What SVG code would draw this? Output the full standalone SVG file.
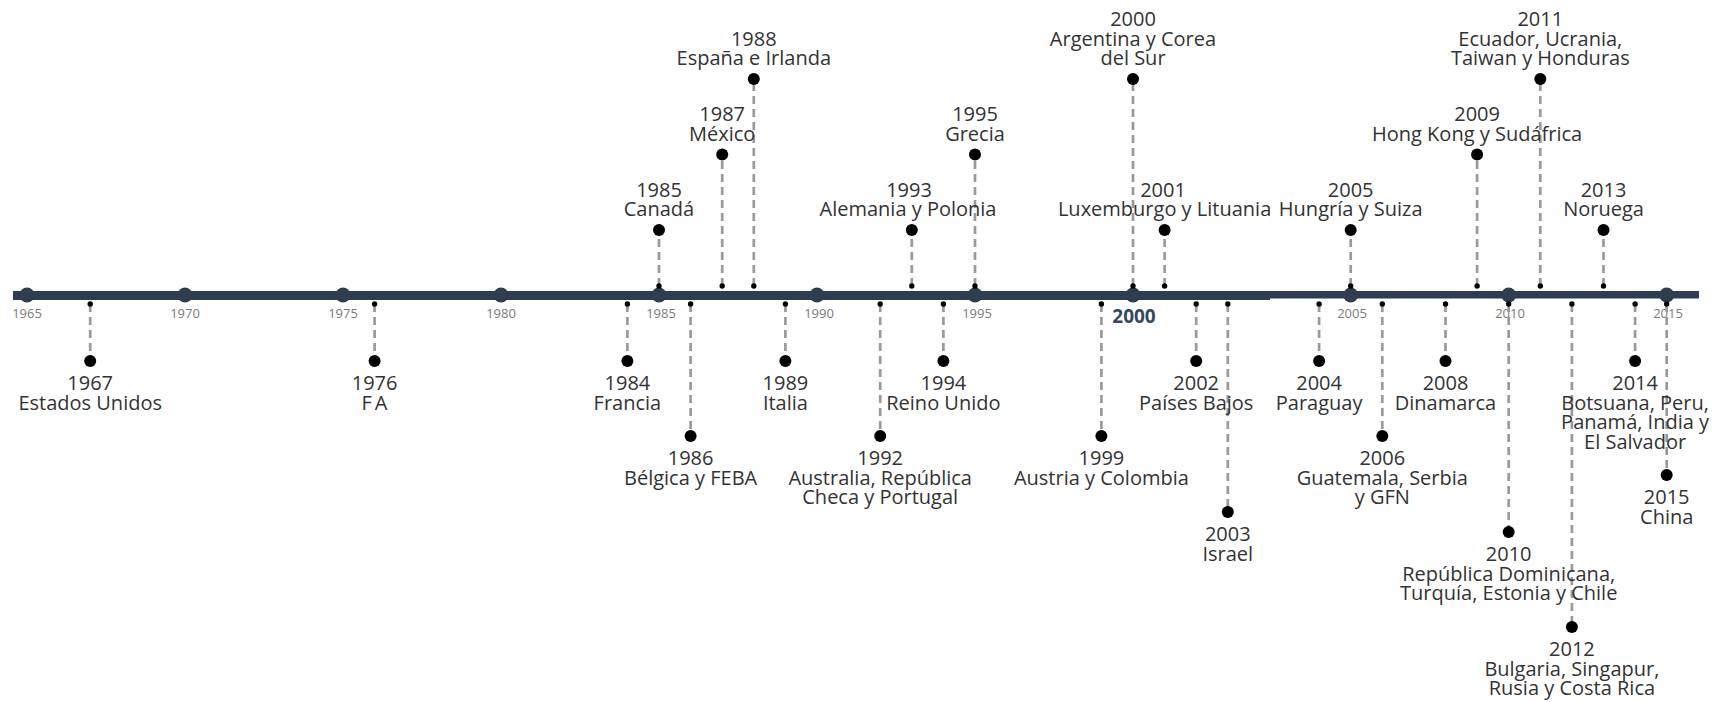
<svg xmlns="http://www.w3.org/2000/svg" width="1726" height="702" viewBox="0 0 1726 702">
<style>
.ax{stroke:#2e3d50;fill:none}
.yc{fill:#2e3d50}
.tk{font-family:"Open Sans","Liberation Sans",sans-serif;font-size:13px;fill:#7a7a7a;text-anchor:middle}
.tkb{font-family:"Open Sans","Liberation Sans",sans-serif;font-size:19px;font-weight:bold;fill:#34495e;text-anchor:middle}
.dash{stroke:#9a9a9a;stroke-width:2.7;stroke-dasharray:8 5;fill:none}
.sd{fill:#000}
.bd{fill:#000}
.lb{font-family:"Open Sans","Liberation Sans",sans-serif;font-size:20px;fill:#333;text-anchor:middle}
</style>
<rect width="1726" height="702" fill="#fff"/>

<g id="axis">
<line class="ax" x1="13" y1="295.5" x2="1270" y2="295.5" stroke-width="9"/>
<line class="ax" x1="1269" y1="294.8" x2="1699" y2="294.8" stroke-width="7.6"/>
<circle class="yc" cx="27" cy="295" r="7.5"/>
<circle class="yc" cx="185" cy="295" r="7.5"/>
<circle class="yc" cx="343" cy="295" r="7.5"/>
<circle class="yc" cx="501" cy="295" r="7.5"/>
<circle class="yc" cx="659" cy="295" r="7.5"/>
<circle class="yc" cx="817" cy="295" r="7.5"/>
<circle class="yc" cx="975" cy="295" r="7.5"/>
<circle class="yc" cx="1133" cy="295" r="7.5"/>
<circle class="yc" cx="1350.7" cy="295" r="7.5"/>
<circle class="yc" cx="1508.7" cy="295" r="7.5"/>
<circle class="yc" cx="1666.7" cy="295" r="7.5"/>
<text class="tk" x="27" y="318">1965</text>
<text class="tk" x="185" y="318">1970</text>
<text class="tk" x="343" y="318">1975</text>
<text class="tk" x="501" y="318">1980</text>
<text class="tk" x="661" y="318">1985</text>
<text class="tk" x="819" y="318">1990</text>
<text class="tk" x="977" y="318">1995</text>
<text class="tkb" x="1134" y="323">2000</text>
<text class="tk" x="1352" y="318">2005</text>
<text class="tk" x="1510" y="318">2010</text>
<text class="tk" x="1668" y="318">2015</text>
</g>

<g id="connectors">
<line class="dash" x1="659" y1="286" x2="659" y2="230"/>
<line class="dash" x1="722.2" y1="286" x2="722.2" y2="154.5"/>
<line class="dash" x1="753.8" y1="286" x2="753.8" y2="79"/>
<line class="dash" x1="911.8" y1="286" x2="911.8" y2="230"/>
<line class="dash" x1="975" y1="286" x2="975" y2="154.5"/>
<line class="dash" x1="1133" y1="286" x2="1133" y2="79"/>
<line class="dash" x1="1164.6" y1="286" x2="1164.6" y2="230"/>
<line class="dash" x1="1350.7" y1="286" x2="1350.7" y2="230"/>
<line class="dash" x1="1477.1" y1="286" x2="1477.1" y2="154.5"/>
<line class="dash" x1="1540.3" y1="286" x2="1540.3" y2="79"/>
<line class="dash" x1="1603.5" y1="286" x2="1603.5" y2="230"/>
<line class="dash" x1="90.2" y1="304" x2="90.2" y2="361"/>
<line class="dash" x1="374.6" y1="304" x2="374.6" y2="361"/>
<line class="dash" x1="627.4" y1="304" x2="627.4" y2="361"/>
<line class="dash" x1="690.6" y1="304" x2="690.6" y2="436"/>
<line class="dash" x1="785.4" y1="304" x2="785.4" y2="361"/>
<line class="dash" x1="880.2" y1="304" x2="880.2" y2="436"/>
<line class="dash" x1="943.4" y1="304" x2="943.4" y2="361"/>
<line class="dash" x1="1101.4" y1="304" x2="1101.4" y2="436"/>
<line class="dash" x1="1196.2" y1="304" x2="1196.2" y2="361"/>
<line class="dash" x1="1227.8" y1="304" x2="1227.8" y2="512"/>
<line class="dash" x1="1319.1" y1="304" x2="1319.1" y2="361"/>
<line class="dash" x1="1382.3" y1="304" x2="1382.3" y2="436"/>
<line class="dash" x1="1445.5" y1="304" x2="1445.5" y2="361"/>
<line class="dash" x1="1508.7" y1="304" x2="1508.7" y2="532"/>
<line class="dash" x1="1571.9" y1="304" x2="1571.9" y2="627"/>
<line class="dash" x1="1635.1" y1="304" x2="1635.1" y2="361"/>
<line class="dash" x1="1666.7" y1="304" x2="1666.7" y2="475"/>
<g class="sd">
<circle cx="659" cy="286" r="2.7"/><circle cx="722.2" cy="286" r="2.7"/><circle cx="753.8" cy="286" r="2.7"/>
<circle cx="911.8" cy="286" r="2.7"/><circle cx="975" cy="286" r="2.7"/><circle cx="1133" cy="286" r="2.7"/>
<circle cx="1164.6" cy="286" r="2.7"/><circle cx="1350.7" cy="286" r="2.7"/><circle cx="1477.1" cy="286" r="2.7"/>
<circle cx="1540.3" cy="286" r="2.7"/><circle cx="1603.5" cy="286" r="2.7"/>
<circle cx="90.2" cy="304" r="2.7"/><circle cx="374.6" cy="304" r="2.7"/><circle cx="627.4" cy="304" r="2.7"/>
<circle cx="690.6" cy="304" r="2.7"/><circle cx="785.4" cy="304" r="2.7"/><circle cx="880.2" cy="304" r="2.7"/>
<circle cx="943.4" cy="304" r="2.7"/><circle cx="1101.4" cy="304" r="2.7"/><circle cx="1196.2" cy="304" r="2.7"/>
<circle cx="1227.8" cy="304" r="2.7"/><circle cx="1319.1" cy="304" r="2.7"/><circle cx="1382.3" cy="304" r="2.7"/>
<circle cx="1445.5" cy="304" r="2.7"/><circle cx="1508.7" cy="304" r="2.7"/><circle cx="1571.9" cy="304" r="2.7"/>
<circle cx="1635.1" cy="304" r="2.7"/><circle cx="1666.7" cy="304" r="2.7"/>
</g>
</g>

<g id="ev-1985"><circle class="bd" cx="659" cy="230" r="6"/><text class="lb" x="659"><tspan x="659" y="196.5">1985</tspan><tspan x="659" y="216">Canadá</tspan></text></g>
<g id="ev-1987"><circle class="bd" cx="722.2" cy="154.5" r="6"/><text class="lb"><tspan x="722.2" y="121">1987</tspan><tspan x="722.2" y="140.5">México</tspan></text></g>
<g id="ev-1988"><circle class="bd" cx="753.8" cy="79" r="6"/><text class="lb"><tspan x="753.8" y="45.5">1988</tspan><tspan x="753.8" y="65">España e Irlanda</tspan></text></g>
<g id="ev-1993"><circle class="bd" cx="911.8" cy="230" r="6"/><text class="lb"><tspan x="909" y="196.5">1993</tspan><tspan x="908" y="216">Alemania y Polonia</tspan></text></g>
<g id="ev-1995"><circle class="bd" cx="975" cy="154.5" r="6"/><text class="lb"><tspan x="975" y="121">1995</tspan><tspan x="975" y="140.5">Grecia</tspan></text></g>
<g id="ev-2000"><circle class="bd" cx="1133" cy="79" r="6"/><text class="lb"><tspan x="1133" y="26">2000</tspan><tspan x="1133" y="45.5">Argentina y Corea</tspan><tspan x="1133" y="65">del Sur</tspan></text></g>
<g id="ev-2001"><circle class="bd" cx="1164.6" cy="230" r="6"/><text class="lb"><tspan x="1163" y="196.5">2001</tspan><tspan x="1164.6" y="216">Luxemburgo y Lituania</tspan></text></g>
<g id="ev-2005"><circle class="bd" cx="1350.7" cy="230" r="6"/><text class="lb"><tspan x="1350.7" y="196.5">2005</tspan><tspan x="1350.7" y="216">Hungría y Suiza</tspan></text></g>
<g id="ev-2009"><circle class="bd" cx="1477.1" cy="154.5" r="6"/><text class="lb"><tspan x="1477.1" y="121">2009</tspan><tspan x="1477.1" y="140.5">Hong Kong y Sudáfrica</tspan></text></g>
<g id="ev-2011"><circle class="bd" cx="1540.3" cy="79" r="6"/><text class="lb"><tspan x="1540.3" y="26">2011</tspan><tspan x="1540.3" y="45.5">Ecuador, Ucrania,</tspan><tspan x="1540.3" y="65">Taiwan y Honduras</tspan></text></g>
<g id="ev-2013"><circle class="bd" cx="1603.5" cy="230" r="6"/><text class="lb"><tspan x="1603.5" y="196.5">2013</tspan><tspan x="1603.5" y="216">Noruega</tspan></text></g>

<g id="ev-1967"><circle class="bd" cx="90.2" cy="361" r="6"/><text class="lb"><tspan x="90.2" y="390">1967</tspan><tspan x="90.2" y="409.5">Estados Unidos</tspan></text></g>
<g id="ev-1976"><circle class="bd" cx="374.6" cy="361" r="6"/><text class="lb"><tspan x="374.6" y="390">1976</tspan><tspan x="376" y="409.5" letter-spacing="3">FA</tspan></text></g>
<g id="ev-1984"><circle class="bd" cx="627.4" cy="361" r="6"/><text class="lb"><tspan x="627.4" y="390">1984</tspan><tspan x="627.4" y="409.5">Francia</tspan></text></g>
<g id="ev-1986"><circle class="bd" cx="690.6" cy="436" r="6"/><text class="lb"><tspan x="690.6" y="465">1986</tspan><tspan x="690.6" y="484.5">Bélgica y FEBA</tspan></text></g>
<g id="ev-1989"><circle class="bd" cx="785.4" cy="361" r="6"/><text class="lb"><tspan x="785.4" y="390">1989</tspan><tspan x="785.4" y="409.5">Italia</tspan></text></g>
<g id="ev-1992"><circle class="bd" cx="880.2" cy="436" r="6"/><text class="lb"><tspan x="880.2" y="465">1992</tspan><tspan x="880.2" y="484.5">Australia, República</tspan><tspan x="880.2" y="504">Checa y Portugal</tspan></text></g>
<g id="ev-1994"><circle class="bd" cx="943.4" cy="361" r="6"/><text class="lb"><tspan x="943.4" y="390">1994</tspan><tspan x="943.4" y="409.5">Reino Unido</tspan></text></g>
<g id="ev-1999"><circle class="bd" cx="1101.4" cy="436" r="6"/><text class="lb"><tspan x="1101.4" y="465">1999</tspan><tspan x="1101.4" y="484.5">Austria y Colombia</tspan></text></g>
<g id="ev-2002"><circle class="bd" cx="1196.2" cy="361" r="6"/><text class="lb"><tspan x="1196.2" y="390">2002</tspan><tspan x="1196.2" y="409.5">Países Bajos</tspan></text></g>
<g id="ev-2003"><circle class="bd" cx="1227.8" cy="512" r="6"/><text class="lb"><tspan x="1227.8" y="541">2003</tspan><tspan x="1227.8" y="560.5">Israel</tspan></text></g>
<g id="ev-2004"><circle class="bd" cx="1319.1" cy="361" r="6"/><text class="lb"><tspan x="1319.1" y="390">2004</tspan><tspan x="1319.1" y="409.5">Paraguay</tspan></text></g>
<g id="ev-2006"><circle class="bd" cx="1382.3" cy="436" r="6"/><text class="lb"><tspan x="1382.3" y="465">2006</tspan><tspan x="1382.3" y="484.5">Guatemala, Serbia</tspan><tspan x="1382.3" y="504">y GFN</tspan></text></g>
<g id="ev-2008"><circle class="bd" cx="1445.5" cy="361" r="6"/><text class="lb"><tspan x="1445.5" y="390">2008</tspan><tspan x="1445.5" y="409.5">Dinamarca</tspan></text></g>
<g id="ev-2010"><circle class="bd" cx="1508.7" cy="532" r="6"/><text class="lb"><tspan x="1508.7" y="561">2010</tspan><tspan x="1508.7" y="580.5">República Dominicana,</tspan><tspan x="1508.7" y="600">Turquía, Estonia y Chile</tspan></text></g>
<g id="ev-2012"><circle class="bd" cx="1571.9" cy="627" r="6"/><text class="lb"><tspan x="1571.9" y="656">2012</tspan><tspan x="1571.9" y="675.5">Bulgaria, Singapur,</tspan><tspan x="1571.9" y="695">Rusia y Costa Rica</tspan></text></g>
<g id="ev-2014"><circle class="bd" cx="1635.1" cy="361" r="6"/><text class="lb"><tspan x="1635.1" y="390">2014</tspan><tspan x="1635.1" y="409.5">Botsuana, Peru,</tspan><tspan x="1635.1" y="429">Panamá, India y</tspan><tspan x="1635.1" y="448.5">El Salvador</tspan></text></g>
<g id="ev-2015"><circle class="bd" cx="1666.7" cy="475" r="6"/><text class="lb"><tspan x="1666.7" y="504">2015</tspan><tspan x="1666.7" y="523.5">China</tspan></text></g>
</svg>
